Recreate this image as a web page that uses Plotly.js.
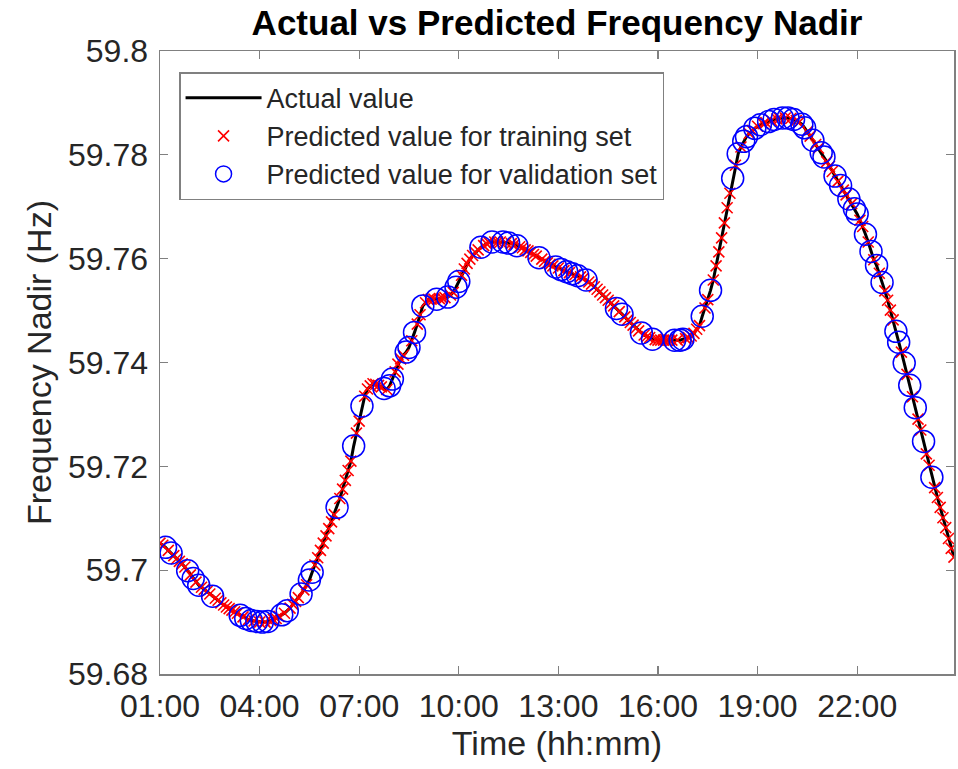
<!DOCTYPE html>
<html>
<head>
<meta charset="utf-8">
<script src="https://cdn.plot.ly/plotly-3.0.1.min.js"></script>
<style>
  html, body { margin: 0; padding: 0; background: #ffffff; }
  #chart { width: 958px; height: 769px; }
</style>
</head>
<body>
<div id="chart"></div>
<script>
// Sampling: 5-minute steps starting at 01:00 (hours)
const startHour = 1;
const stepMinutes = 5;

// Actual frequency nadir (Hz), one row per hour, 12 samples each
const actualValues = [
  59.7052, 59.7048, 59.7044, 59.7038, 59.7033, 59.7028, 59.7022, 59.7017, 59.7012, 59.7006, 59.6999, 59.6991,
  59.6984, 59.6977, 59.6971, 59.6967, 59.6963, 59.6959, 59.6954, 59.6950, 59.6946, 59.6942, 59.6937, 59.6933,
  59.6929, 59.6926, 59.6923, 59.6920, 59.6917, 59.6913, 59.6910, 59.6907, 59.6905, 59.6903, 59.6902, 59.6901,
  59.6900, 59.6900, 59.6900, 59.6901, 59.6903, 59.6905, 59.6907, 59.6911, 59.6914, 59.6917, 59.6922, 59.6927,
  59.6934, 59.6940, 59.6947, 59.6954, 59.6962, 59.6972, 59.6981, 59.6996, 59.7010, 59.7024, 59.7038, 59.7052,
  59.7066, 59.7080, 59.7093, 59.7107, 59.7121, 59.7138, 59.7156, 59.7173, 59.7192, 59.7210, 59.7239, 59.7264,
  59.7287, 59.7316, 59.7335, 59.7349, 59.7355, 59.7359, 59.7358, 59.7356, 59.7353, 59.7350, 59.7348, 59.7355,
  59.7368, 59.7382, 59.7397, 59.7407, 59.7414, 59.7420, 59.7429, 59.7442, 59.7458, 59.7474, 59.7492, 59.7509,
  59.7515, 59.7521, 59.7522, 59.7522, 59.7522, 59.7523, 59.7524, 59.7525, 59.7526, 59.7530, 59.7535, 59.7545,
  59.7556, 59.7568, 59.7580, 59.7591, 59.7599, 59.7606, 59.7612, 59.7617, 59.7622, 59.7625, 59.7629, 59.7631,
  59.7632, 59.7632, 59.7632, 59.7632, 59.7632, 59.7631, 59.7630, 59.7629, 59.7627, 59.7625, 59.7623, 59.7621,
  59.7617, 59.7615, 59.7612, 59.7608, 59.7605, 59.7602, 59.7599, 59.7595, 59.7592, 59.7589, 59.7586, 59.7584,
  59.7582, 59.7579, 59.7577, 59.7575, 59.7573, 59.7571, 59.7569, 59.7567, 59.7565, 59.7562, 59.7559, 59.7555,
  59.7551, 59.7546, 59.7541, 59.7536, 59.7530, 59.7525, 59.7520, 59.7514, 59.7509, 59.7504, 59.7498, 59.7493,
  59.7488, 59.7482, 59.7477, 59.7472, 59.7466, 59.7461, 59.7457, 59.7453, 59.7450, 59.7448, 59.7445, 59.7444,
  59.7443, 59.7443, 59.7443, 59.7443, 59.7443, 59.7443, 59.7443, 59.7443, 59.7443, 59.7445, 59.7446, 59.7448,
  59.7451, 59.7456, 59.7464, 59.7471, 59.7489, 59.7505, 59.7521, 59.7539, 59.7559, 59.7586, 59.7613, 59.7640,
  59.7669, 59.7698, 59.7726, 59.7755, 59.7780, 59.7802, 59.7815, 59.7826, 59.7835, 59.7841, 59.7847, 59.7851,
  59.7855, 59.7858, 59.7860, 59.7862, 59.7864, 59.7866, 59.7868, 59.7869, 59.7870, 59.7871, 59.7871, 59.7871,
  59.7870, 59.7868, 59.7866, 59.7863, 59.7859, 59.7852, 59.7845, 59.7836, 59.7828, 59.7820, 59.7813, 59.7804,
  59.7796, 59.7787, 59.7778, 59.7768, 59.7759, 59.7749, 59.7741, 59.7732, 59.7723, 59.7715, 59.7706, 59.7696,
  59.7686, 59.7674, 59.7662, 59.7647, 59.7632, 59.7614, 59.7598, 59.7587, 59.7572, 59.7554, 59.7538, 59.7520,
  59.7501, 59.7482, 59.7460, 59.7439, 59.7420, 59.7399, 59.7377, 59.7356, 59.7334, 59.7313, 59.7291, 59.7270,
  59.7248, 59.7224, 59.7202, 59.7179, 59.7159, 59.7140, 59.7121, 59.7101, 59.7082, 59.7061, 59.7042, 59.7025
];

// Sample indices that belong to the validation set (the rest are training)
const validationIdx = [
  2, 4, 10, 12, 14, 19, 29, 31, 33, 35, 37, 39, 44, 46, 51, 54, 55,
  64, 70, 73, 81, 83, 84, 89, 90, 92, 95, 100, 104, 107, 108,
  116, 120, 124, 126, 129, 137, 143, 145, 147, 149, 151, 154, 165, 167, 174, 178, 186, 188, 189, 196, 199,
  207, 209, 211, 212, 215, 217, 220, 222, 225, 227, 229, 232, 233, 236, 239, 240, 244, 246, 249, 251, 252,
  255, 257, 259, 261, 266, 267, 269, 271, 273, 276, 279
];

const xTickVals = [1, 4, 7, 10, 13, 16, 19, 22];
const xTickText = ["01:00", "04:00", "07:00", "10:00", "13:00", "16:00", "19:00", "22:00"];
const yTickVals = [59.68, 59.70, 59.72, 59.74, 59.76, 59.78, 59.80];
const yTickText = ["59.68", "59.7", "59.72", "59.74", "59.76", "59.78", "59.8"];

const timeHours = actualValues.map((_, i) => startHour + i * stepMinutes / 60);
const valSet = new Set(validationIdx);
const trainX = [], trainY = [], valX = [], valY = [];
actualValues.forEach((v, i) => {
  if (valSet.has(i)) { valX.push(timeHours[i]); valY.push(v); }
  else { trainX.push(timeHours[i]); trainY.push(v); }
});

const FONT = '"Liberation Sans", Arial, Helvetica, sans-serif';
const AX = '#808080';
const TXT = '#262626';

const traces = [
  { x: timeHours, y: actualValues, type: 'scatter', mode: 'lines', name: 'Actual value',
    line: { color: '#000000', width: 3 } },
  { x: trainX, y: trainY, type: 'scatter', mode: 'markers', name: 'Predicted value for training set',
    marker: { symbol: 'x-thin-open', size: 11, color: '#ff0000', line: { color: '#ff0000', width: 1.6 } } },
  { x: valX, y: valY, type: 'scatter', mode: 'markers', name: 'Predicted value for validation set',
    marker: { symbol: 'circle-open', size: 22, color: '#0000ff', line: { color: '#0000ff', width: 1.5 } } }
];

const layout = {
  width: 958, height: 769,
  margin: { l: 160, r: 4, t: 51, b: 95 },
  paper_bgcolor: '#ffffff', plot_bgcolor: '#ffffff',
  font: { family: FONT, color: TXT },
  title: { text: '<b>Actual vs Predicted Frequency Nadir</b>', font: { family: FONT, size: 35, color: '#000000' },
           x: 0.5, xref: 'paper', xanchor: 'center', y: 0.971, yref: 'container', yanchor: 'middle' },
  showlegend: true,
  legend: { x: 0.024, y: 0.966, xanchor: 'left', yanchor: 'top', bgcolor: '#ffffff',
            bordercolor: AX, borderwidth: 1.5, font: { family: FONT, size: 27, color: TXT },
            itemwidth: 76, tracegroupgap: 0 },
  xaxis: {
    range: [1, 24.9167], tickmode: 'array', tickvals: xTickVals, ticktext: xTickText,
    showgrid: false, zeroline: false, showline: true, linecolor: AX, linewidth: 1.5, mirror: 'ticks',
    ticks: 'inside', ticklen: 8, tickwidth: 1.2, tickcolor: AX,
    tickfont: { family: FONT, size: 32, color: TXT }, ticklabelstandoff: 3,
    title: { text: 'Time (hh:mm)', font: { family: FONT, size: 34, color: TXT }, standoff: 2 }
  },
  yaxis: {
    range: [59.68, 59.80], tickmode: 'array', tickvals: yTickVals, ticktext: yTickText,
    showgrid: false, zeroline: false, showline: true, linecolor: AX, linewidth: 1.5, mirror: 'ticks',
    ticks: 'inside', ticklen: 8, tickwidth: 1.2, tickcolor: AX,
    tickfont: { family: FONT, size: 32, color: TXT }, ticklabelstandoff: 4,
    title: { text: 'Frequency Nadir (Hz)', font: { family: FONT, size: 34, color: TXT }, standoff: 6 }
  }
};

Plotly.newPlot('chart', traces, layout, { displayModeBar: false, staticPlot: true });
</script>
</body>
</html>
